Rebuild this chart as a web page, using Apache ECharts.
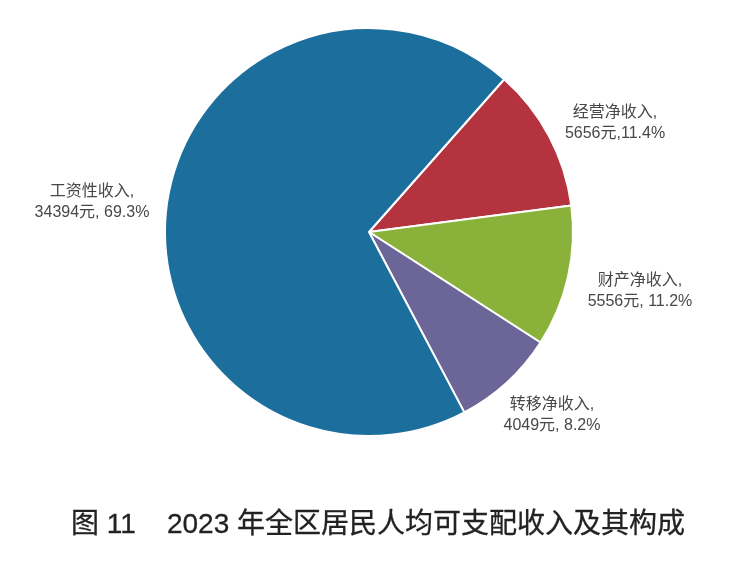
<!DOCTYPE html>
<html>
<head>
<meta charset="utf-8">
<script src="https://cdn.jsdelivr.net/npm/echarts@6/dist/echarts.min.js"></script>
<style>
html,body{margin:0;padding:0;background:#fff;}
#c{width:743px;height:562px;}
</style>
</head>
<body>
<div id="c"></div>
<script>
var categories = ['经营净收入', '财产净收入', '转移净收入', '工资性收入'];
var values = [5656, 5556, 4049, 34394];
var percents = ['11.4%', '11.2%', '8.2%', '69.3%'];
var separators = [',', ', ', ', ', ', '];
var colors = ['#b5333f', '#8ab23a', '#6c6597', '#1c6e9c'];
var titleText = '图 11    2023 年全区居民人均可支配收入及其构成';

var labelPos = [
  [615, 123],
  [640, 291],
  [552, 415],
  [92, 202]
];

var chart = echarts.init(document.getElementById('c'));
chart.setOption({
  backgroundColor: '#ffffff',
  animation: false,
  title: {
    text: titleText,
    left: 66,
    top: 506,
    textStyle: {
      fontFamily: '"Liberation Sans", "Noto Sans CJK SC", sans-serif',
      fontSize: 28,
      fontWeight: 'normal',
      color: '#222222',
      textBorderColor: '#222222',
      textBorderWidth: 0.3
    }
  },
  series: [{
    type: 'pie',
    center: [369, 232],
    radius: [0, 204],
    startAngle: 48.5,
    clockwise: true,
    data: categories.map(function (c, i) {
      return { name: c, value: values[i], itemStyle: { color: colors[i] } };
    }),
    itemStyle: { borderColor: '#ffffff', borderWidth: 2 },
    label: {
      show: true,
      position: 'outside',
      overflow: 'none',
      width: 200,
      formatter: function (p) {
        return p.name + ',\n' + values[p.dataIndex] + '元' + separators[p.dataIndex] + percents[p.dataIndex];
      },
      fontFamily: '"Liberation Sans", "Noto Sans CJK SC", sans-serif',
      fontSize: 16,
      lineHeight: 21,
      color: '#484848',
      align: 'center'
    },
    labelLine: { show: false },
    labelLayout: function (params) {
      var p = labelPos[params.dataIndex];
      return { x: p[0], y: p[1], align: 'center', verticalAlign: 'middle' };
    }
  }]
});
</script>
</body>
</html>
